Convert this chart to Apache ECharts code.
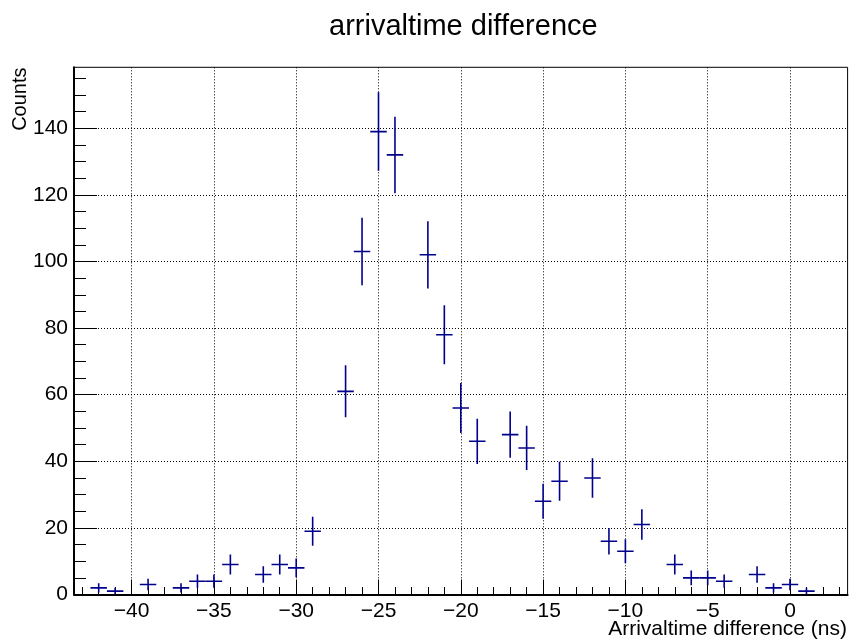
<!DOCTYPE html>
<html>
<head>
<meta charset="utf-8">
<script src="https://cdn.jsdelivr.net/npm/echarts@6/dist/echarts.min.js"></script>
<style>
html,body{margin:0;padding:0;background:#fff;}
#chart{width:851px;height:640px;}
</style>
</head>
<body>
<div id="chart"></div>
<script>
// Histogram bin centers (ns) and counts
const binCenters = [-43,-42,-41,-40,-39,-38,-37,-36,-35,-34,-33,-32,-31,-30,-29,-28,-27,-26,-25,-24,-23,-22,-21,-20,-19,-18,-17,-16,-15,-14,-13,-12,-11,-10,-9,-8,-7,-6,-5,-4,-3,-2,-1,0,1,2,3];
const counts     = [0,2,1,0,3,0,2,4,4,9,0,6,9,8,19,0,61,103,139,132,0,102,78,56,46,0,48,44,28,34,0,35,16,13,21,0,9,5,5,4,0,6,2,3,1,0,0];
const binWidth = 1;

// Tick labels / tick positions
const xMajorTicks = [-40,-35,-30,-25,-20,-15,-10,-5,0];
const xMinorTicks = [-43,-42,-41,-40,-39,-38,-37,-36,-35,-34,-33,-32,-31,-30,-29,-28,-27,-26,-25,-24,-23,-22,-21,-20,-19,-18,-17,-16,-15,-14,-13,-12,-11,-10,-9,-8,-7,-6,-5,-4,-3,-2,-1,0,1,2,3];
const yMajorTicks = [0,20,40,60,80,100,120,140];
const yMinorTicks = [0,5,10,15,20,25,30,35,40,45,50,55,60,65,70,75,80,85,90,95,100,105,110,115,120,125,130,135,140,145,150,155];

const titleText = 'arrivaltime difference';
const xTitle = 'Arrivaltime difference (ns)';
const yTitle = 'Counts';

const FONT = '"Liberation Sans", Arial, Helvetica, sans-serif';
const BAR_COLOR = '#00008b';

const seriesData = binCenters.map((x, i) => [x, counts[i], Math.sqrt(counts[i])]);

const chart = echarts.init(document.getElementById('chart'), null, {renderer: 'canvas'});

const fmt = v => (v < 0 ? '\u2212' + Math.abs(v) : String(v));

const option = {
  backgroundColor: '#ffffff',
  animation: false,
  title: {
    text: titleText,
    left: 324,
    top: 7,
    textStyle: {fontFamily: FONT, fontSize: 29, fontWeight: 'normal', color: '#000'}
  },
  grid: {
    left: 74, right: 3.4, top: 67.3, bottom: 45.5,
    show: true, borderColor: '#000', borderWidth: 1,
    outerBoundsMode: 'none', containLabel: false
  },
  xAxis: [
    {
      type: 'value', min: -43.5, max: 3.5, position: 'bottom',
      axisLine: {show: true, onZero: false, lineStyle: {color: '#000', width: 2}},
      axisTick: {show: true, inside: true, length: 15, customValues: xMajorTicks, lineStyle: {color: '#000', width: 1}},
      axisLabel: {show: true, customValues: xMajorTicks, formatter: fmt, fontFamily: FONT, fontSize: 21, color: '#000', margin: 6},
      splitLine: {show: true, lineStyle: {color: '#000', width: 1, type: [1, 2]}}
    },
    {
      type: 'value', min: -43.5, max: 3.5, position: 'bottom', offset: 0,
      axisLine: {show: false, onZero: false},
      axisTick: {show: true, inside: true, length: 7.5, customValues: xMinorTicks, lineStyle: {color: '#000', width: 1}},
      axisLabel: {show: false},
      splitLine: {show: false}
    }
  ],
  yAxis: [
    {
      type: 'value', min: 0, max: 158.3, position: 'left',
      axisLine: {show: true, onZero: false, lineStyle: {color: '#000', width: 2}},
      axisTick: {show: true, inside: true, length: 23, customValues: yMajorTicks, lineStyle: {color: '#000', width: 1}},
      axisLabel: {show: true, customValues: yMajorTicks, fontFamily: FONT, fontSize: 21, color: '#000', margin: 6},
      splitLine: {show: true, lineStyle: {color: '#000', width: 1, type: [1, 2]}}
    },
    {
      type: 'value', min: 0, max: 158.3, position: 'left', offset: 0,
      axisLine: {show: false, onZero: false},
      axisTick: {show: true, inside: true, length: 12, customValues: yMinorTicks, lineStyle: {color: '#000', width: 1}},
      axisLabel: {show: false},
      splitLine: {show: false}
    }
  ],
  graphic: [
    {
      type: 'text', x: 20, y: 67.5, rotation: Math.PI / 2,
      style: {text: yTitle, font: '20px ' + FONT, fill: '#000', align: 'right', verticalAlign: 'middle'}
    },
    {
      type: 'text', x: 847, y: 629,
      style: {text: xTitle, font: '21px ' + FONT, fill: '#000', align: 'right', verticalAlign: 'middle'}
    }
  ],
  series: [
    {
      type: 'custom',
      name: 'counts',
      xAxisIndex: 0, yAxisIndex: 0,
      data: seriesData,
      clip: true,
      renderItem: function (params, api) {
        const x = api.value(0), y = api.value(1), e = api.value(2);
        if (!(y > 0)) return null;
        const l = api.coord([x - binWidth / 2, y]);
        const r = api.coord([x + binWidth / 2, y]);
        const t = api.coord([x, y + e]);
        const b = api.coord([x, y - e]);
        const st = {stroke: BAR_COLOR, lineWidth: 1.6};
        return {
          type: 'group',
          children: [
            {type: 'line', shape: {x1: l[0], y1: l[1], x2: r[0], y2: r[1]}, style: st},
            {type: 'line', shape: {x1: t[0], y1: t[1], x2: b[0], y2: b[1]}, style: st}
          ]
        };
      }
    }
  ]
};

chart.setOption(option);
</script>
</body>
</html>
